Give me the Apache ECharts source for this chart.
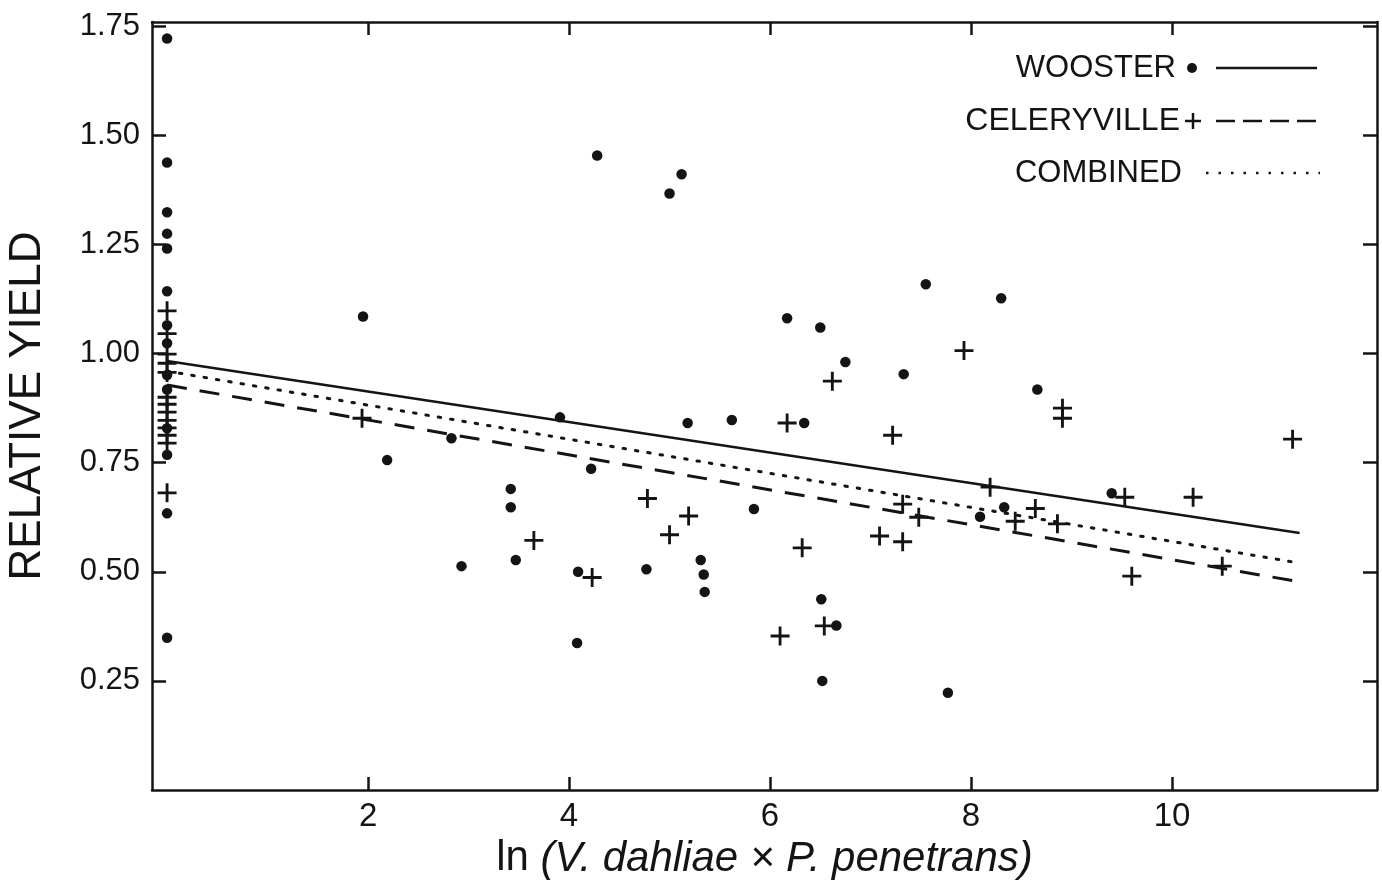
<!DOCTYPE html>
<html>
<head>
<meta charset="utf-8">
<script src="https://cdn.jsdelivr.net/npm/echarts@6/dist/echarts.min.js"></script>
<style>
  html, body { margin: 0; padding: 0; background: #ffffff; }
  #chart { width: 1382px; height: 880px; }
</style>
</head>
<body>
<div id="chart"></div>
<script>
// ---- data ----
const xTicks = [2, 4, 6, 8, 10];
const yTicks = [0.25, 0.5, 0.75, 1.0, 1.25, 1.5, 1.75];

const woosterPoints = [
  [0, 1.722], [0, 1.438], [0, 1.324], [0, 1.275], [0, 1.241], [0, 1.143],
  [0, 1.065], [0, 1.024], [0, 0.951], [0, 0.918], [0, 0.829], [0, 0.768],
  [0, 0.634], [0, 0.349],
  [1.95, 1.085], [2.19, 0.756], [2.83, 0.806], [2.93, 0.513], [3.42, 0.690],
  [3.42, 0.648], [3.47, 0.527], [3.91, 0.854], [4.08, 0.337], [4.09, 0.500],
  [4.22, 0.736], [4.28, 1.454], [4.77, 0.506], [5.00, 1.367], [5.12, 1.411],
  [5.18, 0.841], [5.31, 0.527], [5.34, 0.494], [5.35, 0.454], [5.62, 0.848],
  [5.84, 0.644], [6.17, 1.081], [6.34, 0.841], [6.50, 1.060], [6.51, 0.437],
  [6.52, 0.250], [6.66, 0.377], [6.75, 0.981], [7.33, 0.953], [7.55, 1.159],
  [7.77, 0.223], [8.09, 0.626], [8.30, 1.127], [8.33, 0.648], [8.66, 0.918],
  [9.40, 0.680]
];

const celeryvillePoints = [
  [0, 1.098], [0, 1.046], [0, 0.999], [0, 0.978], [0, 0.957], [0, 0.900],
  [0, 0.884], [0, 0.866], [0, 0.847], [0, 0.830], [0, 0.813], [0, 0.795],
  [0, 0.681],
  [1.94, 0.852], [3.65, 0.572], [4.23, 0.487], [4.78, 0.668], [5.00, 0.585],
  [5.19, 0.628], [6.10, 0.353], [6.17, 0.841], [6.32, 0.555], [6.54, 0.376],
  [6.62, 0.937], [7.09, 0.582], [7.22, 0.813], [7.32, 0.569], [7.32, 0.655],
  [7.48, 0.625], [7.93, 1.007], [8.19, 0.694], [8.44, 0.616], [8.64, 0.645],
  [8.86, 0.610], [8.91, 0.875], [8.91, 0.852], [9.53, 0.671], [9.60, 0.490],
  [10.21, 0.671], [10.50, 0.513], [11.20, 0.804]
];

const woosterLine = [[0, 0.983], [11.27, 0.589]];
const celeryvilleLine = [[0, 0.928], [11.27, 0.477]];
const combinedLine = [[0, 0.960], [11.27, 0.520]];

const legendNames = ['WOOSTER', 'CELERYVILLE', 'COMBINED'];

// ---- chart ----
const INK = '#141414';
const FONT = '"Liberation Sans", Arial, sans-serif';
const plusPath = 'path://M-1.5,-10H1.5V-1.5H10V1.5H1.5V10H-1.5V1.5H-10V-1.5H-1.5Z';

const axisLineStyle = { color: INK, width: 2.5 };
const tickStyle = { color: INK, width: 2.5 };

function xAxisCfg(pos, labels) {
  return {
    type: 'value', position: pos, min: -0.15, max: 12.04,
    axisLine: { show: true, onZero: false, lineStyle: axisLineStyle },
    axisTick: { show: true, inside: true, length: 13, customValues: xTicks, lineStyle: tickStyle },
    axisLabel: labels ? {
      show: true, customValues: xTicks, margin: 10,
      color: INK, fontFamily: FONT, fontSize: 33
    } : { show: false },
    splitLine: { show: false }
  };
}
function yAxisCfg(pos, labels) {
  return {
    type: 'value', position: pos, min: 0, max: 1.76,
    axisLine: { show: true, onZero: false, lineStyle: axisLineStyle },
    axisTick: { show: true, inside: true, length: 14, customValues: yTicks, lineStyle: tickStyle },
    axisLabel: labels ? {
      show: true, customValues: yTicks, margin: 12,
      color: INK, fontFamily: FONT, fontSize: 31,
      formatter: v => v.toFixed(2)
    } : { show: false },
    splitLine: { show: false }
  };
}

const xb = xAxisCfg('bottom', true);
xb.name = '{n|ln }{i|(V. dahliae × P. penetrans)}';
xb.nameLocation = 'middle';
xb.nameGap = 44;
xb.nameTextStyle = {
  rich: {
    n: { fontFamily: FONT, fontSize: 42, color: INK },
    i: { fontFamily: FONT, fontSize: 42, fontStyle: 'italic', color: INK }
  }
};
const yl = yAxisCfg('left', true);
yl.name = 'RELATIVE YIELD';
yl.nameLocation = 'middle';
yl.nameGap = 102;
yl.nameTextStyle = { fontFamily: FONT, fontSize: 44, color: INK };

// legend drawn as graphic items (text, sample marker, line sample)
const lgY = [68, 121, 173];
const legendGraphics = [
  { type: 'text', x: 1176, y: lgY[0], style: { text: legendNames[0], font: '31px ' + FONT, fill: INK, textAlign: 'right', textVerticalAlign: 'middle' } },
  { type: 'circle', shape: { cx: 1192, cy: lgY[0], r: 5 }, style: { fill: INK } },
  { type: 'line', shape: { x1: 1216, y1: lgY[0], x2: 1317, y2: lgY[0] }, style: { stroke: INK, lineWidth: 2.5 } },

  { type: 'text', x: 1180, y: lgY[1], style: { text: legendNames[1], font: '32px ' + FONT, fill: INK, textAlign: 'right', textVerticalAlign: 'middle' } },
  { type: 'line', shape: { x1: 1185, y1: lgY[1], x2: 1201, y2: lgY[1] }, style: { stroke: INK, lineWidth: 2.5 } },
  { type: 'line', shape: { x1: 1193, y1: lgY[1] - 8, x2: 1193, y2: lgY[1] + 8 }, style: { stroke: INK, lineWidth: 2.5 } },
  { type: 'line', shape: { x1: 1216, y1: lgY[1], x2: 1317, y2: lgY[1] }, style: { stroke: INK, lineWidth: 2.5, lineDash: [19, 8] } },

  { type: 'text', x: 1182, y: lgY[2], style: { text: legendNames[2], font: '31px ' + FONT, fill: INK, textAlign: 'right', textVerticalAlign: 'middle' } },
  { type: 'line', shape: { x1: 1206, y1: lgY[2], x2: 1320, y2: lgY[2] }, style: { stroke: INK, lineWidth: 2.5, lineDash: [2.5, 10] } }
];

const chart = echarts.init(document.getElementById('chart'), null, { renderer: 'canvas' });
chart.setOption({
  backgroundColor: '#ffffff',
  animation: false,
  grid: { left: 152, right: 5, top: 22, bottom: 90, containLabel: false, outerBoundsMode: 'none' },
  xAxis: [xb, xAxisCfg('top', false)],
  yAxis: [yl, yAxisCfg('right', false)],
  graphic: legendGraphics,
  series: [
    {
      name: 'WOOSTER', type: 'scatter', data: woosterPoints,
      symbol: 'circle', symbolSize: 10.5,
      itemStyle: { color: INK, opacity: 1 }, z: 3
    },
    {
      name: 'CELERYVILLE', type: 'scatter', data: celeryvillePoints,
      symbol: plusPath, symbolSize: 19,
      itemStyle: { color: INK, opacity: 1 }, z: 3
    },
    {
      name: 'WOOSTER fit', type: 'line', data: woosterLine, showSymbol: false, symbol: 'none',
      lineStyle: { color: INK, width: 2.5, type: 'solid' }, z: 2
    },
    {
      name: 'CELERYVILLE fit', type: 'line', data: celeryvilleLine, showSymbol: false, symbol: 'none',
      lineStyle: { color: INK, width: 3, type: [20, 13] }, z: 2
    },
    {
      name: 'COMBINED fit', type: 'line', data: combinedLine, showSymbol: false, symbol: 'none',
      lineStyle: { color: INK, width: 3, type: [2.5, 10], cap: 'round' }, z: 2
    }
  ]
});
</script>
</body>
</html>
